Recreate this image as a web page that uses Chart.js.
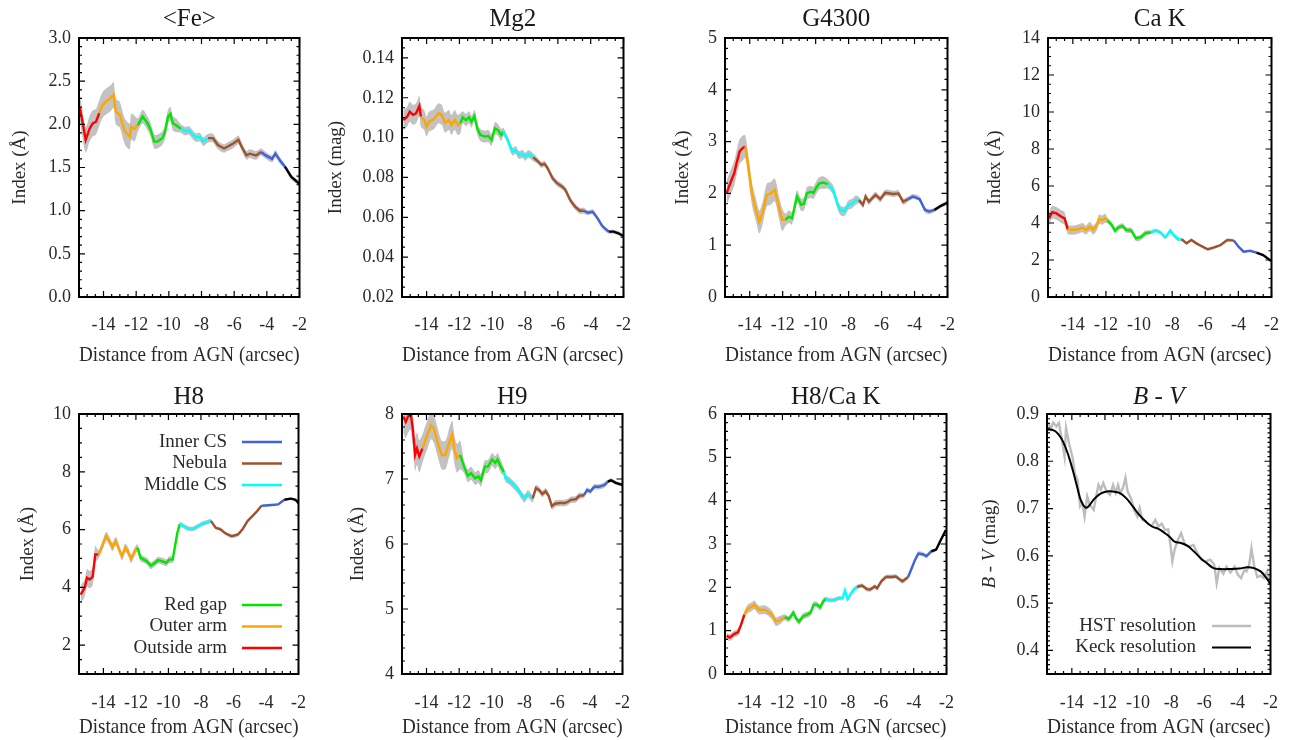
<!DOCTYPE html>
<html>
<head>
<meta charset="utf-8">
<script src="https://cdn.jsdelivr.net/npm/chart.js@4.4.1/dist/chart.umd.min.js"></script>
<style>
html, body { margin: 0; padding: 0; background: #fff; }
#wrap { position: relative; width: 1296px; height: 740px; }
#wrap canvas { position: absolute; }
</style>
</head>
<body>
<div id="wrap"></div>
<script>
// shared x axis
var xTicks = [-14, -12, -10, -8, -6, -4, -2];

// <Fe>
var feX = [-15.44,-15.09,-14.85,-14.66,-14.46,-14.26,-14.07,-13.87,-13.58,-13.38,-13.25,-13.0,-12.7,-12.4,-12.3,-12.1,-11.9,-11.6,-11.3,-11.1,-10.9,-10.7,-10.4,-10.25,-10.05,-9.9,-9.75,-9.56,-9.26,-8.97,-8.77,-8.38,-8.09,-7.89,-7.6,-7.3,-7.0,-6.62,-6.42,-6.03,-5.74,-5.54,-5.25,-5.05,-4.66,-4.36,-4.07,-3.68,-3.48,-3.19,-2.89,-2.5,-2.0];
var feY = [2.19,1.82,1.95,2.01,2.03,2.13,2.22,2.26,2.30,2.34,2.15,2.11,1.92,1.86,1.97,1.95,1.99,2.09,2.01,1.93,1.80,1.80,1.84,1.90,2.09,2.12,2.01,1.99,1.95,1.92,1.93,1.85,1.85,1.80,1.84,1.84,1.76,1.72,1.74,1.78,1.82,1.74,1.64,1.66,1.64,1.68,1.64,1.60,1.66,1.58,1.51,1.39,1.31];
var feErr = [0.15, 0.15, 0.08, 0.05, 0.05, 0.04, 0.03];
var feTicks = [0, 0.5, 1, 1.5, 2, 2.5, 3];

// Mg2
var mgX = [-15.42,-15.19,-15.03,-14.83,-14.64,-14.44,-14.35,-14.15,-14.0,-13.86,-13.56,-13.27,-13.07,-12.88,-12.64,-12.49,-12.29,-12.1,-11.94,-11.8,-11.6,-11.41,-11.27,-11.08,-10.92,-10.72,-10.43,-10.24,-10.04,-9.84,-9.65,-9.45,-9.32,-9.06,-8.77,-8.57,-8.38,-8.14,-7.99,-7.79,-7.5,-7.2,-7.01,-6.81,-6.62,-6.32,-6.03,-5.73,-5.54,-5.25,-4.95,-4.66,-4.42,-4.17,-3.88,-3.58,-3.29,-2.9,-2.6,-2.31,-2.02];
var mgY = [0.1088,0.1105,0.113,0.1114,0.1122,0.1159,0.1105,0.1088,0.1055,0.108,0.1092,0.1122,0.1113,0.1075,0.1088,0.1063,0.1088,0.1063,0.1072,0.1102,0.1088,0.1102,0.108,0.1108,0.1047,0.1013,0.1005,0.1008,0.0988,0.1047,0.1038,0.1013,0.103,0.0988,0.093,0.0938,0.0913,0.0918,0.0904,0.0918,0.0901,0.088,0.0863,0.0868,0.0846,0.0796,0.077,0.0754,0.0737,0.0687,0.0653,0.0633,0.0633,0.0623,0.0628,0.0595,0.0556,0.0528,0.0528,0.052,0.0506];
var mgErr = [0.005, 0.005, 0.003, 0.002, 0.0015, 0.0012, 0.001];
var mgTicks = [0.02, 0.04, 0.06, 0.08, 0.10, 0.12, 0.14];

// G4300
var gX = [-15.4,-15.14,-14.94,-14.8,-14.61,-14.41,-14.27,-14.11,-13.87,-13.62,-13.42,-13.22,-12.96,-12.72,-12.48,-12.23,-12.03,-11.83,-11.63,-11.43,-11.13,-10.88,-10.7,-10.54,-10.3,-10.14,-9.98,-9.79,-9.55,-9.25,-8.95,-8.69,-8.52,-8.26,-8.0,-7.8,-7.56,-7.37,-7.13,-6.97,-6.77,-6.37,-6.08,-5.78,-5.28,-4.98,-4.69,-4.39,-4.09,-3.69,-3.36,-3.1,-2.8,-2.4,-2.01];
var gY = [2.01,2.23,2.39,2.58,2.81,2.88,2.90,2.58,2.0,1.68,1.45,1.62,1.97,2.0,2.07,1.74,1.49,1.49,1.55,1.52,1.94,1.78,1.8,2.0,2.03,2.01,2.1,2.19,2.21,2.18,2.07,1.81,1.68,1.65,1.78,1.8,1.87,1.87,1.78,1.94,1.84,1.97,1.89,2.01,1.99,2.0,1.84,1.89,1.94,1.89,1.68,1.65,1.68,1.76,1.82];
var gErr = [0.24, 0.22, 0.12, 0.09, 0.06, 0.05, 0.04];
var gTicks = [0, 1, 2, 3, 4, 5];

// Ca K
var cX = [-15.44,-15.24,-14.99,-14.69,-14.5,-14.3,-14.0,-13.71,-13.42,-13.22,-12.97,-12.77,-12.53,-12.44,-12.24,-12.04,-11.9,-11.65,-11.45,-11.26,-11.0,-10.77,-10.47,-10.18,-9.88,-9.63,-9.29,-9.0,-8.7,-8.41,-8.11,-7.92,-7.62,-7.43,-7.13,-6.84,-6.54,-6.25,-5.85,-5.46,-5.07,-4.67,-4.28,-3.99,-3.69,-3.3,-2.91,-2.51,-2.02];
var cY = [4.25,4.58,4.52,4.34,4.25,3.66,3.62,3.66,3.75,3.62,3.8,3.62,3.89,4.2,4.16,4.25,4.13,3.89,3.59,3.75,3.84,3.62,3.59,3.17,3.23,3.44,3.5,3.59,3.48,3.23,3.59,3.35,3.12,3.12,2.9,3.08,2.9,2.76,2.58,2.68,2.81,3.08,3.05,2.72,2.45,2.5,2.4,2.27,1.95];
var cErr = [0.35, 0.25, 0.15, 0.1, 0.07, 0.06, 0.05];
var cTicks = [0, 2, 4, 6, 8, 10, 12, 14];

// H8
var h8X = [-15.4,-15.15,-15.01,-14.85,-14.66,-14.5,-14.3,-14.07,-13.83,-13.63,-13.44,-13.24,-12.99,-12.85,-12.65,-12.45,-12.3,-12.06,-11.9,-11.71,-11.51,-11.32,-11.08,-10.82,-10.63,-10.37,-10.14,-9.94,-9.74,-9.45,-9.3,-9.06,-8.76,-8.47,-8.17,-7.88,-7.58,-7.39,-7.09,-6.8,-6.5,-6.11,-5.72,-5.42,-5.13,-4.83,-4.54,-4.28,-3.85,-3.26,-2.87,-2.47,-2.18,-2.0];
var h8Y = [3.75,3.98,4.33,4.27,4.36,5.14,5.14,5.43,5.77,5.6,5.4,5.6,5.25,5.08,5.37,5.2,4.99,5.25,5.37,5.02,4.96,4.9,4.75,4.85,4.94,4.9,4.85,4.96,4.96,5.89,6.18,6.12,6.03,6.03,6.12,6.21,6.26,6.3,6.06,6.01,5.87,5.77,5.83,6.03,6.3,6.47,6.64,6.82,6.84,6.87,7.03,7.07,7.03,6.91];
var h8Err = [0.3, 0.15, 0.12, 0.08, 0.06, 0.04, 0.04];
var h8Ticks = [2, 4, 6, 8, 10];

// H9
var h9X = [-15.42,-15.27,-15.13,-14.97,-14.83,-14.7,-14.58,-14.44,-14.25,-13.95,-13.72,-13.56,-13.27,-13.07,-12.84,-12.62,-12.43,-12.29,-12.13,-11.94,-11.7,-11.47,-11.27,-11.02,-10.82,-10.67,-10.43,-10.24,-9.98,-9.79,-9.65,-9.45,-9.26,-9.16,-8.96,-8.67,-8.38,-8.18,-7.99,-7.79,-7.5,-7.3,-7.1,-6.91,-6.71,-6.52,-6.32,-6.13,-5.83,-5.54,-5.34,-5.15,-4.85,-4.66,-4.36,-4.17,-3.97,-3.72,-3.45,-3.09,-2.9,-2.7,-2.41,-2.02];
var h9Y = [7.96,7.88,7.96,8.01,7.75,7.37,7.47,7.35,7.47,7.68,7.83,7.78,7.52,7.37,7.37,7.55,7.68,7.45,7.32,7.37,7.19,7.05,7.09,7.01,7.04,6.98,7.19,7.19,7.3,7.25,7.3,7.19,7.11,7.01,6.98,6.91,6.83,6.75,6.7,6.77,6.7,6.86,6.83,6.77,6.81,6.74,6.58,6.62,6.63,6.63,6.65,6.68,6.69,6.74,6.75,6.83,6.81,6.88,6.88,6.91,6.96,6.98,6.94,6.91];
var h9Err = [0.25, 0.22, 0.1, 0.06, 0.05, 0.04, 0.03];
var h9Ticks = [4, 5, 6, 7, 8];

// H8/Ca K
var rX = [-15.4,-15.21,-14.95,-14.71,-14.52,-14.32,-14.12,-13.83,-13.73,-13.44,-13.04,-12.65,-12.4,-12.16,-11.87,-11.61,-11.33,-11.18,-10.98,-10.75,-10.49,-10.29,-10.1,-9.9,-9.7,-9.51,-9.35,-9.11,-8.82,-8.53,-8.33,-8.19,-8.03,-7.84,-7.64,-7.45,-7.15,-6.86,-6.66,-6.36,-6.23,-5.97,-5.68,-5.38,-5.09,-4.69,-4.34,-4.11,-3.91,-3.71,-3.42,-3.22,-2.93,-2.63,-2.34,-2.04];
var rY = [0.88,0.84,0.92,0.96,1.14,1.37,1.5,1.56,1.6,1.48,1.48,1.37,1.21,1.24,1.31,1.27,1.41,1.29,1.21,1.33,1.37,1.41,1.6,1.6,1.54,1.68,1.73,1.7,1.71,1.75,1.75,1.93,1.73,1.85,1.95,2.01,2.04,1.96,1.95,2.02,1.98,2.14,2.24,2.24,2.25,2.14,2.24,2.45,2.64,2.78,2.76,2.72,2.83,2.87,3.1,3.32];
var rErr = [0.08, 0.1, 0.07, 0.05, 0.05, 0.05, 0.04];
var rTicks = [0, 1, 2, 3, 4, 5, 6];

// B - V
var bvHstX = [-15.42,-15.27,-15.13,-14.93,-14.78,-14.6,-14.44,-14.35,-14.15,-13.95,-13.82,-13.66,-13.5,-13.37,-13.23,-13.07,-12.92,-12.68,-12.53,-12.39,-12.25,-12.1,-11.9,-11.7,-11.51,-11.35,-11.21,-11.08,-10.92,-10.76,-10.63,-10.43,-10.24,-10.04,-9.9,-9.75,-9.55,-9.36,-9.16,-8.96,-8.77,-8.57,-8.38,-8.18,-8.02,-7.93,-7.79,-7.59,-7.4,-7.16,-6.91,-6.65,-6.42,-6.18,-5.93,-5.64,-5.4,-5.25,-5.09,-4.85,-4.66,-4.42,-4.17,-3.97,-3.78,-3.58,-3.45,-3.29,-3.15,-3.0,-2.8,-2.6,-2.41,-2.21,-2.11,-2.02];
var bvHstY = [0.881,0.868,0.882,0.874,0.881,0.846,0.81,0.87,0.835,0.807,0.775,0.761,0.705,0.712,0.683,0.726,0.708,0.697,0.726,0.75,0.74,0.754,0.736,0.729,0.75,0.733,0.75,0.733,0.743,0.765,0.736,0.722,0.697,0.683,0.701,0.676,0.673,0.666,0.664,0.676,0.662,0.668,0.655,0.656,0.616,0.588,0.613,0.634,0.648,0.623,0.62,0.623,0.606,0.592,0.588,0.592,0.581,0.542,0.574,0.562,0.577,0.565,0.577,0.56,0.553,0.57,0.567,0.581,0.616,0.581,0.555,0.558,0.553,0.567,0.549,0.542];
var bvKeckX = [-15.5,-15.13,-14.83,-14.54,-14.25,-13.95,-13.66,-13.43,-13.17,-12.98,-12.68,-12.29,-11.9,-11.51,-11.12,-10.72,-10.33,-9.94,-9.55,-9.16,-8.77,-8.38,-8.08,-7.79,-7.4,-7.01,-6.62,-6.22,-5.83,-5.44,-5.05,-4.46,-3.88,-3.39,-3.0,-2.6,-2.31,-2.02];
var bvKeckY = [0.867,0.866,0.858,0.842,0.817,0.782,0.743,0.715,0.702,0.705,0.719,0.731,0.736,0.736,0.733,0.722,0.705,0.687,0.673,0.662,0.657,0.648,0.64,0.63,0.627,0.621,0.609,0.595,0.584,0.574,0.572,0.572,0.573,0.576,0.574,0.567,0.556,0.541];
var bvTicks = [0.4, 0.5, 0.6, 0.7, 0.8, 0.9];

// regions along the slit, outermost first
var regionNames = ['Outside arm', 'Outer arm', 'Red gap', 'Middle CS', 'Nebula', 'Inner CS', 'inner'];
var regionColors = ['#ff0000', '#ffa500', '#00e600', '#00ffff', '#a0522d', '#3f63d8', '#000000'];
var regionEdges = [-14.3, -11.9, -9.35, -7.45, -4.4, -2.9];

var h8Legend = ['Inner CS', 'Nebula', 'Middle CS', 'Red gap', 'Outer arm', 'Outside arm'];
var bvLegend = ['HST resolution', 'Keck resolution'];

var FONT = "'Liberation Serif', 'Times New Roman', serif";
var BAND = '#c2c2c2';
var TXT = '#2a2a2a';
Chart.defaults.font.family = FONT;
Chart.defaults.color = TXT;

function regionOf(x) {
  var r = 0;
  for (var i = 0; i < regionEdges.length; i++) if (x >= regionEdges[i]) r = i + 1;
  return r;
}

function steps(min, max, step) {
  var out = [];
  for (var k = Math.ceil(min / step - 1e-9); k * step <= max + 1e-9; k++) out.push(k * step);
  return out;
}

// box with inward ticks on all four sides, IDL style
var framePlugin = {
  id: 'frame',
  afterDraw: function (chart, args, o) {
    var a = chart.chartArea, ctx = chart.ctx, xs = chart.scales.x, ys = chart.scales.y;
    ctx.save();
    ctx.strokeStyle = '#000';
    ctx.lineWidth = 1.2;
    ctx.beginPath();
    function xt(v, len) {
      var p = xs.getPixelForValue(v);
      ctx.moveTo(p, a.bottom); ctx.lineTo(p, a.bottom - len);
      ctx.moveTo(p, a.top); ctx.lineTo(p, a.top + len);
    }
    function yt(v, len) {
      var p = ys.getPixelForValue(v);
      ctx.moveTo(a.left, p); ctx.lineTo(a.left + len, p);
      ctx.moveTo(a.right, p); ctx.lineTo(a.right - len, p);
    }
    steps(xs.min, xs.max, 0.5).forEach(function (v) { xt(v, 3); });
    xTicks.forEach(function (v) { xt(v, 6); });
    steps(ys.min, ys.max, o.yMinor).forEach(function (v) { yt(v, 3); });
    o.yMajor.forEach(function (v) { yt(v, 6); });
    ctx.stroke();
    ctx.lineWidth = 2;
    ctx.strokeRect(a.left, a.top, a.right - a.left, a.bottom - a.top);
    ctx.restore();
  }
};

// in-plot legends and the mixed-style B - V axis label
var extrasPlugin = {
  id: 'extras',
  afterDraw: function (chart, args, o) {
    var a = chart.chartArea, ctx = chart.ctx;
    ctx.save();
    if (o.items) {
      ctx.font = '19px ' + FONT;
      ctx.textAlign = 'right';
      ctx.textBaseline = 'middle';
      o.items.forEach(function (it) {
        var y = a.top + it.dy;
        ctx.fillStyle = TXT;
        ctx.fillText(it.label, a.left + o.textRight, y);
        ctx.strokeStyle = it.color;
        ctx.lineWidth = it.width;
        ctx.beginPath();
        ctx.moveTo(a.left + o.lineFrom, y);
        ctx.lineTo(a.left + o.lineTo, y);
        ctx.stroke();
      });
    }
    if (o.bvLabel) {
      var cy = (a.top + a.bottom) / 2;
      ctx.translate(o.bvLabel, cy);
      ctx.rotate(-Math.PI / 2);
      ctx.fillStyle = TXT;
      ctx.textBaseline = 'middle';
      ctx.textAlign = 'left';
      var f1 = 'italic 19px ' + FONT, f2 = '19px ' + FONT;
      ctx.font = f1; var w1 = ctx.measureText('B - V').width;
      ctx.font = f2; var w2 = ctx.measureText(' (mag)').width;
      var x0 = -(w1 + w2) / 2;
      ctx.font = f1; ctx.fillText('B - V', x0, 0);
      ctx.font = f2; ctx.fillText(' (mag)', x0 + w1, 0);
    }
    ctx.restore();
  }
};

var panels = [
  { title: '<Fe>', yTitle: 'Index (Å)', x: feX, y: feY, err: feErr, min: 0, max: 3, ticks: feTicks, minor: 0.1, dec: 1, left: 79, right: 16, yt: 20 },
  { title: 'Mg2', yTitle: 'Index (mag)', x: mgX, y: mgY, err: mgErr, min: 0.02, max: 0.15, ticks: mgTicks, minor: 0.005, dec: 2, left: 78, right: 16, yt: 12 },
  { title: 'G4300', yTitle: 'Index (Å)', x: gX, y: gY, err: gErr, min: 0, max: 5, ticks: gTicks, minor: 0.2, dec: 0, left: 77, right: 19, yt: 35 },
  { title: 'Ca K', yTitle: 'Index (Å)', x: cX, y: cY, err: cErr, min: 0, max: 14, ticks: cTicks, minor: 0.5, dec: 0, left: 76, right: 19, yt: 23 },
  { title: 'H8', yTitle: 'Index (Å)', x: h8X, y: h8Y, err: h8Err, min: 1, max: 10, ticks: h8Ticks, minor: 0.5, dec: 0, left: 79, right: 16, yt: 28, legend: 'h8' },
  { title: 'H9', yTitle: 'Index (Å)', x: h9X, y: h9Y, err: h9Err, min: 4, max: 8, ticks: h9Ticks, minor: 0.2, dec: 0, left: 78, right: 16, yt: 34 },
  { title: 'H8/Ca K', yTitle: '', x: rX, y: rY, err: rErr, min: 0, max: 6, ticks: rTicks, minor: 0.2, dec: 0, left: 77, right: 18, yt: 0 },
  { title: 'B - V', yTitle: '', bv: true, min: 0.35, max: 0.9, ticks: bvTicks, minor: 0.01, dec: 1, left: 75, right: 19, yt: 18, legend: 'bv' }
];

function pts(xs, ys) {
  return xs.map(function (x, k) { return { x: x, y: ys[k] }; });
}

function indexDatasets(p) {
  var up = p.x.map(function (x, k) { return { x: x, y: p.y[k] + p.err[regionOf(x)] }; });
  var lo = p.x.map(function (x, k) { return { x: x, y: p.y[k] - p.err[regionOf(x)] }; });
  return [
    {
      data: pts(p.x, p.y), borderWidth: 2.4, borderColor: '#000', pointRadius: 0, fill: false,
      segment: {
        borderColor: function (ctx) {
          return regionColors[regionOf((ctx.p0.parsed.x + ctx.p1.parsed.x) / 2)];
        }
      }
    },
    { data: up, borderWidth: 0, borderColor: BAND, backgroundColor: BAND, pointRadius: 0, fill: '+1', tension: 0.3 },
    { data: lo, borderWidth: 0, borderColor: BAND, pointRadius: 0, fill: false, tension: 0.3 }
  ];
}

function bvDatasets() {
  return [
    { data: pts(bvKeckX, bvKeckY), borderColor: '#000', borderWidth: 2, pointRadius: 0, tension: 0.4, fill: false },
    { data: pts(bvHstX, bvHstY), borderColor: '#bdbdbd', borderWidth: 2.4, pointRadius: 0, fill: false }
  ];
}

var wrap = document.getElementById('wrap');

panels.forEach(function (p, i) {
  var col = i % 4, row = Math.floor(i / 4);
  var cv = document.createElement('canvas');
  cv.width = 324; cv.height = 370;
  cv.style.left = (col * 324) + 'px';
  cv.style.top = (row * 370) + 'px';
  wrap.appendChild(cv);

  var extras = {};
  if (p.legend === 'h8') {
    var order = [5, 4, 3, 2, 1, 0];
    var dys = [28, 49.5, 71, 191, 212.5, 234];
    extras.items = h8Legend.map(function (l, k) {
      return { label: l, color: regionColors[order[k]], dy: dys[k], width: 2.4 };
    });
    extras.textRight = 148; extras.lineFrom = 163; extras.lineTo = 203;
  }
  if (p.legend === 'bv') {
    extras.items = [
      { label: bvLegend[0], color: '#bdbdbd', dy: 212, width: 2.4 },
      { label: bvLegend[1], color: '#000', dy: 233.5, width: 2 }
    ];
    extras.textRight = 149; extras.lineFrom = 165; extras.lineTo = 204;
    extras.bvLabel = p.yt;
  }

  new Chart(cv, {
    type: 'line',
    data: { datasets: p.bv ? bvDatasets() : indexDatasets(p) },
    options: {
      responsive: false,
      animation: false,
      devicePixelRatio: 1,
      layout: { padding: { left: 0, right: p.right, top: 0, bottom: 0 } },
      plugins: {
        legend: { display: false },
        tooltip: { enabled: false },
        title: {
          display: true, text: p.title, fullSize: false, color: '#1a1a1a',
          font: { size: 25, weight: 'normal', style: p.bv ? 'italic' : 'normal', lineHeight: 1.2 },
          padding: row === 0 ? { top: 4, bottom: 4 } : { top: 12, bottom: 2 }
        },
        frame: { yMajor: p.ticks, yMinor: p.minor },
        extras: extras
      },
      scales: {
        x: {
          type: 'linear', min: -15.5, max: -2,
          grid: { display: false, drawTicks: false }, border: { display: false },
          afterBuildTicks: function (s) { s.ticks = xTicks.map(function (v) { return { value: v }; }); },
          afterFit: function (s) { s.height = row === 0 ? 73 : 66; },
          ticks: { font: { size: 18 }, padding: row === 0 ? 17 : 18, maxRotation: 0, autoSkip: false,
            callback: function (v) { return String(v); } },
          title: { display: true, text: 'Distance from AGN (arcsec)', font: { size: 21.5 },
            padding: { top: 0, bottom: row === 0 ? 2 : 0 } }
        },
        y: {
          type: 'linear', min: p.min, max: p.max,
          grid: { display: false, drawTicks: false }, border: { display: false },
          afterBuildTicks: function (s) { s.ticks = p.ticks.map(function (v) { return { value: v }; }); },
          afterFit: function (s) { s.width = p.left; },
          ticks: { font: { size: 18 }, padding: 8, autoSkip: false,
            callback: function (v) { return v.toFixed(p.dec); } },
          title: { display: !!p.yTitle, text: p.yTitle, font: { size: 19 },
            padding: { top: Math.max(p.yt - 11.4, 0), bottom: 0 } }
        }
      }
    },
    plugins: [framePlugin, extrasPlugin]
  });
});
</script>
</body>
</html>
